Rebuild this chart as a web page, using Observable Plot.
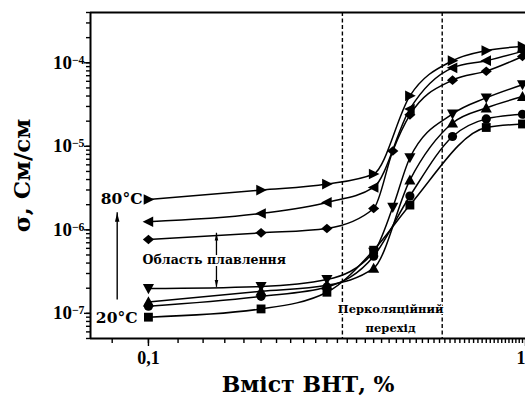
<!DOCTYPE html>
<html><head><meta charset="utf-8">
<script src="https://cdn.jsdelivr.net/npm/d3@7"></script>
<script src="https://cdn.jsdelivr.net/npm/@observablehq/plot@0.6"></script>
<style>html,body{margin:0;padding:0;background:#fff}svg{display:block}</style>
</head><body><div id="chart"></div>
<script>
// ---- axes / domains ----
const xDomain = [0.07, 1.0186];
const yDomain = [5e-8, 4e-4];
const xTicks = [0.1, 1];
const xTickLabels = ["0,1", "1"];
const yTicks = [1e-7, 1e-6, 1e-5, 1e-4];
const yTickExponents = ["−7", "−6", "−5", "−4"];
const xTitle = "Вміст ВНТ, %";
const yTitle = "σ, См/см";
const percolationBounds = [0.33, 0.61];

// ---- series (conductivity vs CNT content) ----
const xTriRight = [0.1, 0.2, 0.3, 0.4, 0.5, 0.65, 0.8, 1];
const yTriRight = [2.31e-6, 2.99e-6, 3.53e-6, 4.66e-6, 4.02e-5, 1.06e-4, 1.40e-4, 1.57e-4];
const xTriLeft = [0.1, 0.2, 0.3, 0.4, 0.5, 0.65, 0.8, 1];
const yTriLeft = [1.25e-6, 1.57e-6, 2.13e-6, 3.22e-6, 2.8e-5, 8.7e-5, 1.06e-4, 1.37e-4];
const xDiamond = [0.1, 0.2, 0.3, 0.4, 0.45, 0.5, 0.65, 0.8, 1];
const yDiamond = [7.66e-7, 9.2e-7, 1.04e-6, 1.8e-6, 8.8e-6, 2.38e-5, 6.2e-5, 7.94e-5, 1.19e-4];
const xTriDown = [0.1, 0.2, 0.3, 0.4, 0.45, 0.5, 0.65, 0.8, 1];
const yTriDown = [1.98e-7, 2.1e-7, 2.54e-7, 5.4e-7, 1.86e-6, 7.3e-6, 2.44e-5, 3.8e-5, 5.45e-5];
const xTriUp = [0.1, 0.2, 0.3, 0.4, 0.5, 0.65, 0.8, 1];
const yTriUp = [1.37e-7, 1.84e-7, 2.17e-7, 3.47e-7, 3.94e-6, 1.9e-5, 2.88e-5, 3.94e-5];
const xCircle = [0.1, 0.2, 0.3, 0.4, 0.5, 0.65, 0.8, 1];
const yCircle = [1.22e-7, 1.6e-7, 2.07e-7, 4.83e-7, 2.54e-6, 1.31e-5, 2.13e-5, 2.42e-5];
const xSquare = [0.1, 0.2, 0.3, 0.4, 0.5, 0.8, 1];
const ySquare = [9.0e-8, 1.13e-7, 1.79e-7, 5.7e-7, 1.98e-6, 1.68e-5, 1.85e-5];

// ---- annotations ----
const tempLabels = ["80°C", "20°C"];
const tempLabelX = [0.0964, 0.0935];
const tempLabelY = [2.33e-6, 8.7e-8];
const tempArrowX = [0.0825];
const tempArrowY = [1.45e-7, 1.6e-6];
const meltLabel = ["Область плавлення"];
const meltLabelX = [0.150];
const meltLabelY = [4.33e-7];
const meltArrowX = [0.152];
const meltArrowY = [2.05e-7, 9.1e-7];
const percLabel = ["Перколяційний\nперехід"];
const percLabelX = [0.444];
const percLabelY = [9.1e-8];

// ---- custom marker shapes ----
const poly = pts => ({draw(ctx, size) {
  const r = Math.sqrt(size / Math.PI);
  ctx.moveTo(pts[0][0] * r, pts[0][1] * r);
  for (let i = 1; i < pts.length; i++) ctx.lineTo(pts[i][0] * r, pts[i][1] * r);
  ctx.closePath();
}});
const symTriRight = poly([[-0.9, -1], [1.1, 0], [-0.9, 1]]);
const symTriLeft = poly([[0.9, -1], [-1.1, 0], [0.9, 1]]);
const symTriDown = poly([[-1.05, -0.85], [1.05, -0.85], [0, 1.05]]);
const symTriUp = poly([[-1.05, 0.85], [1.05, 0.85], [0, -1.05]]);
const symDiamond = poly([[0, -0.9], [1.05, 0], [0, 0.9], [-1.05, 0]]);
const symSquare = poly([[-0.85, -0.85], [0.85, -0.85], [0.85, 0.85], [-0.85, 0.85]]);
const headUp = poly([[0, 0], [-0.45, 1.8], [0.45, 1.8]]);
const headDown = poly([[0, 0], [-0.45, -1.8], [0.45, -1.8]]);

const series = [
  {x: xTriRight, y: yTriRight, symbol: symTriRight, r: 5.3},
  {x: xTriLeft, y: yTriLeft, symbol: symTriLeft, r: 5.3},
  {x: xDiamond, y: yDiamond, symbol: symDiamond, r: 5.3},
  {x: xTriDown, y: yTriDown, symbol: symTriDown, r: 5.3},
  {x: xTriUp, y: yTriUp, symbol: symTriUp, r: 5.3},
  {x: xCircle, y: yCircle, symbol: "circle", r: 4.6},
  {x: xSquare, y: ySquare, symbol: symSquare, r: 5.2}
].map(s => ({...s, data: s.x.map((v, i) => ({x: v, y: s.y[i]}))}));

const serif = "'DejaVu Serif', serif";
const tickFont = "'Liberation Serif', serif";

const marks = [
  // dashed percolation limits
  Plot.ruleX(percolationBounds, {stroke: "black", strokeWidth: 1.4, strokeDasharray: "4,2.5"}),
  // curves
  ...series.map(s => Plot.line(s.data, {x: "x", y: "y", curve: "monotone-x", stroke: "black", strokeWidth: 1.5})),
  // markers
  ...series.map(s => Plot.dot(s.data, {x: "x", y: "y", symbol: s.symbol, r: s.r, fill: "black", stroke: "none"})),
  // temperature arrow
  Plot.ruleX(tempArrowX, {y1: tempArrowY[0], y2: tempArrowY[1], stroke: "black", strokeWidth: 1.4}),
  Plot.dot(tempArrowX, {x: d => d, y: () => tempArrowY[1], symbol: headUp, r: 5, fill: "black", stroke: "none"}),
  Plot.text(tempLabels, {x: (d, i) => tempLabelX[i], y: (d, i) => tempLabelY[i], text: d => d, textAnchor: "end",
    fontFamily: serif, fontWeight: "bold", fontSize: 15.5, fill: "black"}),
  // melting region double arrow
  Plot.ruleX(meltArrowX, {y1: meltArrowY[0], y2: meltArrowY[1], stroke: "black", strokeWidth: 1.3}),
  Plot.dot(meltArrowX, {x: d => d, y: () => meltArrowY[1], symbol: headUp, r: 4, fill: "black", stroke: "none"}),
  Plot.dot(meltArrowX, {x: d => d, y: () => meltArrowY[0], symbol: headDown, r: 4, fill: "black", stroke: "none"}),
  Plot.text(meltLabel, {x: (d, i) => meltLabelX[i], y: (d, i) => meltLabelY[i], text: d => d,
    fontFamily: serif, fontWeight: "bold", fontSize: 12.5, fill: "black", stroke: "white", strokeWidth: 4}),
  Plot.text(percLabel, {x: (d, i) => percLabelX[i], y: (d, i) => percLabelY[i], text: d => d, lineHeight: 1.6,
    fontFamily: serif, fontWeight: "bold", fontSize: 11.5, fill: "black", stroke: "white", strokeWidth: 2}),
  // frame: left, bottom, top
  Plot.ruleX([xDomain[0]], {stroke: "black", strokeWidth: 2}),
  Plot.ruleY(yDomain, {stroke: "black", strokeWidth: 2}),
  // axes
  Plot.axisX({ticks: 30, tickFormat: () => "", tickSize: 5, strokeWidth: 1.4}),
  Plot.axisX({ticks: [xTicks[0]], tickFormat: d => xTickLabels[xTicks.indexOf(d)], tickSize: 8, tickPadding: 5, strokeWidth: 1.4,
    fontSize: 18, fontFamily: tickFont, fontWeight: "bold", label: null}),
  Plot.axisX({ticks: [xTicks[1]], tickFormat: d => xTickLabels[xTicks.indexOf(d)], tickSize: 8, tickPadding: 5, strokeWidth: 1.4,
    fontSize: 18, fontFamily: tickFont, fontWeight: "bold", textAnchor: "end", dx: 3, label: null}),
  Plot.axisY({ticks: 40, tickFormat: () => "", tickSize: 4, strokeWidth: 1.4}),
  Plot.axisY({ticks: yTicks, tickFormat: d => "10^" + yTickExponents[yTicks.indexOf(d)], tickSize: 6, tickPadding: 0, strokeWidth: 1.4,
    fontSize: 19, fontFamily: tickFont, fontWeight: "bold", label: null}),
  // axis titles
  Plot.text([xTitle], {frameAnchor: "bottom", dy: 53, text: d => d, textAnchor: "middle", fontFamily: serif, fontWeight: "bold", fontSize: 22, fill: "black"}),
  Plot.text([yTitle], {frameAnchor: "left", dx: -68, rotate: -90, text: d => d, textAnchor: "middle", fontFamily: serif, fontWeight: "bold", fontSize: 23, fill: "black"})
];

const chart = Plot.plot({
  width: 525,
  height: 405,
  marginLeft: 90,
  marginTop: 12,
  marginBottom: 67,
  marginRight: 0,
  x: {type: "log", domain: xDomain, label: null},
  y: {type: "log", domain: yDomain, label: null},
  style: {background: "white", color: "black", overflow: "visible"},
  marks
});

// superscript exponents in y tick labels
const ns = "http://www.w3.org/2000/svg";
chart.querySelectorAll("text").forEach(t => {
  const s = t.textContent;
  if (s.startsWith("10^")) {
    const e = s.slice(3);
    t.textContent = "10";
    const ts = document.createElementNS(ns, "tspan");
    ts.setAttribute("dy", "-0.45em");
    ts.setAttribute("font-size", "0.62em");
    ts.textContent = e;
    t.appendChild(ts);
  }
});
document.getElementById("chart").appendChild(chart);
</script>
</body></html>
